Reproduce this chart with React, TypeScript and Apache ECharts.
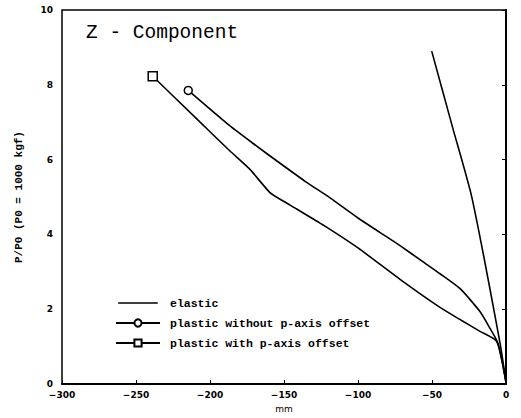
import React, { useEffect, useRef } from "react";
import * as echarts from "echarts";

const xTicks = [-300, -250, -200, -150, -100, -50, 0];
const yTicks = [0, 2, 4, 6, 8, 10];

const elasticX = [-50.2, -36, -23, -4, 0];
const elasticY = [8.9, 6.85, 4.98, 1.09, 0.05];

const noOffsetX = [-214.7, -186.5, -168.4, -155, -135, -118.9, -100, -85, -71.6, -55, -44.6, -31, -17.6, -10.8, -5.4, 0];
const noOffsetY = [7.85, 6.9, 6.36, 5.97, 5.4, 4.98, 4.44, 4.05, 3.7, 3.24, 2.95, 2.55, 1.94, 1.49, 1.09, 0.05];

const withOffsetX = [-238.7, -210, -186.5, -173, -159.5, -150, -141.4, -121, -100, -71.6, -44.6, -30, -17.6, -6.3, 0];
const withOffsetY = [8.23, 7.13, 6.23, 5.74, 5.12, 4.88, 4.68, 4.19, 3.64, 2.8, 2.05, 1.7, 1.41, 1.14, 0.05];

const seriesNames = ["elastic", "plastic without p-axis offset", "plastic with p-axis offset"];

const toData = (xs: number[], ys: number[]) =>
  xs.map((x, i) =>
    i === 0 ? { value: [x, ys[i]] } : { value: [x, ys[i]], symbol: "none" }
  );

export default function App() {
  const ref = useRef<HTMLDivElement>(null);
  useEffect(() => {
    if (!ref.current) return;
    const chart = echarts.init(ref.current, null, { renderer: "svg" });
    const labelFont = { fontFamily: "DejaVu Sans", fontWeight: "bold" as const, fontSize: 9, color: "#000" };
    chart.setOption({
      animation: false,
      backgroundColor: "#fff",
      title: {
        text: "Z - Component",
        left: 86,
        top: 23,
        padding: 0,
        textStyle: { fontFamily: "Liberation Mono", fontSize: 19.5, fontWeight: "normal", color: "#000" },
      },
      legend: {
        orient: "vertical",
        left: 110,
        top: 291,
        itemWidth: 44,
        itemHeight: 9,
        itemGap: 6,
        data: [
          {
            name: seriesNames[0],
            icon: "path://M0,0 L0.01,0 L0.01,0.01 L0,0.01 Z M0,4.2 L44,4.2 L44,5.8 L0,5.8 Z M0,9.99 L0.01,9.99 L0.01,10 L0,10 Z",
          },
          { name: seriesNames[1] },
          { name: seriesNames[2] },
        ],
        textStyle: {
          fontFamily: "Liberation Mono",
          fontWeight: "bold",
          fontSize: 11.5,
          color: "#000",
          lineHeight: 14,
          padding: [0, 0, 0, 5],
        },
      },
      grid: {
        left: 62,
        right: 15,
        top: 10,
        bottom: 32,
        show: true,
        borderColor: "#000",
        borderWidth: 1.5,
        backgroundColor: "transparent",
      },
      xAxis: {
        type: "value",
        min: xTicks[0],
        max: xTicks[xTicks.length - 1],
        interval: 50,
        name: "mm",
        nameLocation: "middle",
        nameGap: 19,
        nameTextStyle: { ...labelFont, fontWeight: "normal", fontSize: 9 },
        axisLine: { lineStyle: { color: "#000", width: 2 } },
        axisTick: { inside: true, length: 4, lineStyle: { color: "#000" } },
        axisLabel: { ...labelFont, margin: 6, formatter: (v: number) => (v === 0 ? "0" : "\u2212" + Math.abs(v)) },
        splitLine: { show: false },
      },
      yAxis: {
        type: "value",
        min: yTicks[0],
        max: yTicks[yTicks.length - 1],
        interval: 2,
        name: "P/P0 (P0 = 1000 kgf)",
        nameLocation: "middle",
        nameGap: 38,
        nameTextStyle: { fontFamily: "Liberation Mono", fontWeight: "bold", fontSize: 11, color: "#000" },
        axisLine: { lineStyle: { color: "#000", width: 2 } },
        axisTick: { inside: false, length: 4, lineStyle: { color: "#000" } },
        axisLabel: { ...labelFont, margin: 9 },
        splitLine: { show: false },
      },
      series: [
        {
          name: seriesNames[0],
          type: "line",
          symbol: "none",
          smooth: 0.2,
          lineStyle: { color: "#000", width: 1.6 },
          itemStyle: { color: "#000" },
          data: elasticX.map((x, i) => [x, elasticY[i]]),
        },
        {
          name: seriesNames[1],
          type: "line",
          symbol: "circle",
          symbolSize: 8,
          showSymbol: true,
          smooth: 0.2,
          lineStyle: { color: "#000", width: 1.6 },
          itemStyle: { color: "#fff", borderColor: "#000", borderWidth: 1.5 },
          data: toData(noOffsetX, noOffsetY),
        },
        {
          name: seriesNames[2],
          type: "line",
          symbol: "rect",
          symbolSize: 9,
          showSymbol: true,
          smooth: 0.2,
          lineStyle: { color: "#000", width: 1.6 },
          itemStyle: { color: "#fff", borderColor: "#000", borderWidth: 1.5 },
          data: toData(withOffsetX, withOffsetY),
        },
      ],
    });
    return () => chart.dispose();
  }, []);
  return (
    <div
      ref={ref}
      style={{ position: "fixed", left: 0, top: 0, width: 521, height: 418, background: "#fff" }}
    />
  );
}
